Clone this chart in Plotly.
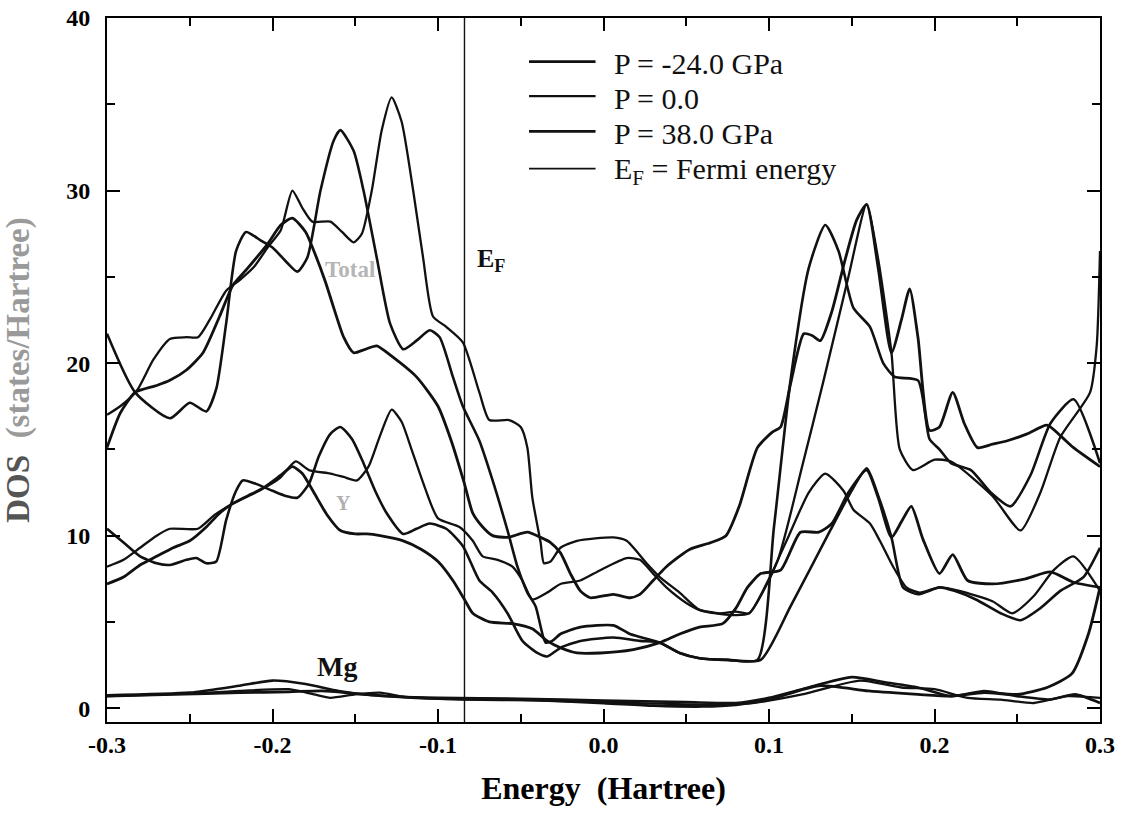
import plotly.graph_objects as go

# ---------------- data ----------------
E_FERMI = -0.084

# Total DOS, P = -24.0 GPa
e_tot_a = [-0.300, -0.283, -0.262, -0.250, -0.240, -0.234, -0.228, -0.222, -0.216, -0.207, -0.200, -0.191,
           -0.185, -0.179, -0.171, -0.163, -0.159, -0.151, -0.145, -0.137, -0.129, -0.121, -0.113, -0.105,
           -0.099, -0.091, -0.085, -0.075, -0.067, -0.058, -0.052, -0.046, -0.041, -0.035, -0.031, -0.026,
           -0.014, 0.006, 0.016, 0.034, 0.046, 0.058, 0.075, 0.093, 0.103, 0.113, 0.124, 0.134, 0.142,
           0.151, 0.161, 0.169, 0.176, 0.190, 0.197, 0.203, 0.210, 0.222, 0.234, 0.246, 0.258, 0.270,
           0.284, 0.300]
dos_tot_a = [21.7, 18.3, 16.8, 17.7, 17.2, 18.5, 22.3, 26.5, 27.6, 27.1, 26.7, 25.8,
             25.3, 26.1, 30.0, 32.9, 33.5, 32.3, 30.0, 26.1, 22.3, 20.8, 21.3, 21.9,
             21.5, 19.2, 17.5, 15.5, 13.2, 10.3, 8.2, 6.7, 5.9, 3.8, 3.9, 4.3,
             4.7, 4.8, 4.3, 3.8, 3.2, 2.9, 2.8, 2.8, 10.5, 19.0, 25.5, 28.0, 26.5,
             23.2, 22.1, 20.0, 19.2, 19.0, 15.6, 15.0, 14.2, 13.8, 12.5, 11.7, 13.5, 16.5,
             17.9, 14.2]

# Total DOS, P = 0.0
e_tot_b = [-0.300, -0.292, -0.282, -0.272, -0.262, -0.252, -0.245, -0.238, -0.228, -0.220, -0.211, -0.203,
           -0.195, -0.188, -0.182, -0.176, -0.165, -0.158, -0.151, -0.146, -0.140, -0.134, -0.128, -0.122,
           -0.115, -0.109, -0.103, -0.095, -0.085, -0.075, -0.069, -0.057, -0.050, -0.046, -0.043, -0.038,
           -0.036, -0.032, -0.026, -0.016, 0.006, 0.014, 0.026, 0.034, 0.046, 0.058, 0.078, 0.088, 0.105,
           0.120, 0.133, 0.148, 0.159, 0.166, 0.174, 0.179, 0.187, 0.200, 0.210, 0.235, 0.252, 0.264,
           0.276, 0.294, 0.298, 0.300]
dos_tot_b = [17.0, 17.5, 18.4, 20.2, 21.4, 21.5, 21.5, 22.5, 24.2, 24.8, 25.6, 26.7,
             27.7, 30.0, 29.0, 28.2, 28.2, 27.6, 27.0, 27.5, 30.0, 33.5, 35.4, 34.0,
             30.0, 26.1, 22.7, 22.1, 21.2, 18.3, 16.7, 16.7, 16.3, 15.1, 12.2, 9.6,
             8.4, 8.5, 9.3, 9.7, 9.9, 9.7, 8.4, 7.6, 6.7, 5.7, 5.4, 5.5, 8.5,
             14.0, 19.0, 25.0, 29.2, 26.0, 20.6, 15.0, 13.8, 14.4, 14.3, 12.3, 10.3, 12.5,
             15.7, 18.3, 21.0, 26.5]

# Total DOS, P = 38.0 GPa
e_tot_c = [-0.300, -0.292, -0.283, -0.270, -0.262, -0.252, -0.242, -0.232, -0.224, -0.215, -0.203, -0.195,
           -0.188, -0.180, -0.175, -0.168, -0.163, -0.157, -0.151, -0.144, -0.137, -0.128, -0.113, -0.100,
           -0.092, -0.084, -0.079, -0.073, -0.067, -0.058, -0.046, -0.038, -0.032, -0.026, -0.020, -0.014,
           -0.008, 0.006, 0.016, 0.022, 0.030, 0.038, 0.052, 0.065, 0.074, 0.082, 0.093, 0.102, 0.107,
           0.113, 0.121, 0.126, 0.131, 0.138, 0.146, 0.153, 0.159, 0.166, 0.174, 0.180, 0.185, 0.190,
           0.197, 0.203, 0.211, 0.218, 0.226, 0.235, 0.244, 0.256, 0.268, 0.276, 0.284, 0.300]
dos_tot_c = [15.1, 17.1, 18.3, 18.7, 19.0, 19.6, 20.6, 22.7, 24.5, 25.5, 26.9, 28.0,
             28.4, 27.6, 26.5, 24.7, 23.2, 21.5, 20.6, 20.8, 21.0, 20.4, 19.2, 17.5,
             15.5, 13.0, 11.3, 10.5, 10.0, 9.9, 10.2, 9.9, 9.6, 9.0, 7.8, 6.8,
             6.4, 6.6, 6.4, 6.6, 7.4, 8.2, 9.2, 9.6, 10.0, 11.7, 15.1, 16.0, 16.3,
             18.8, 21.7, 21.6, 21.3, 23.0, 26.0, 28.3, 29.2, 25.5, 20.6, 22.5, 24.3, 21.5,
             16.1, 16.3, 18.3, 16.5, 15.1, 15.3, 15.5, 15.9, 16.4, 15.8, 15.1, 14.0]

# Y partial DOS
e_y_a = [-0.300, -0.290, -0.280, -0.270, -0.262, -0.252, -0.246, -0.240, -0.234, -0.228, -0.222, -0.218,
         -0.210, -0.200, -0.192, -0.185, -0.178, -0.172, -0.165, -0.159, -0.152, -0.145, -0.138, -0.131,
         -0.121, -0.113, -0.105, -0.095, -0.085, -0.075, -0.067, -0.058, -0.049, -0.040, -0.034, -0.026,
         -0.014, 0.006, 0.022, 0.034, 0.046, 0.058, 0.075, 0.095, 0.113, 0.137, 0.147, 0.159, 0.166,
         0.174, 0.181, 0.190, 0.203, 0.212, 0.225, 0.240, 0.252, 0.264, 0.276, 0.290, 0.300]
dos_y_a = [10.4, 9.6, 8.8, 8.4, 8.3, 8.6, 8.7, 8.4, 8.5, 10.9, 12.6, 13.2,
           13.0, 12.6, 12.3, 12.2, 13.0, 14.6, 15.9, 16.3, 15.6, 14.2, 12.6, 11.3,
           10.1, 10.4, 10.7, 10.4, 9.4, 7.4, 6.7, 5.5, 3.9, 3.2, 3.0, 3.5,
           3.9, 4.1, 3.9, 3.8, 3.2, 2.9, 2.8, 2.8, 5.9, 10.3, 12.1, 13.9, 12.3,
           9.9, 7.0, 6.6, 7.0, 6.8, 6.3, 5.5, 5.1, 5.8, 6.8, 7.6, 9.3]

e_y_b = [-0.300, -0.290, -0.280, -0.270, -0.262, -0.245, -0.235, -0.223, -0.208, -0.196, -0.186, -0.178,
         -0.165, -0.157, -0.149, -0.142, -0.135, -0.128, -0.122, -0.116, -0.108, -0.100, -0.087, -0.079,
         -0.073, -0.064, -0.055, -0.049, -0.043, -0.034, -0.026, -0.014, -0.002, 0.014, 0.022, 0.030,
         0.038, 0.050, 0.058, 0.070, 0.080, 0.088, 0.100, 0.112, 0.124, 0.134, 0.145, 0.151, 0.161,
         0.167, 0.175, 0.183, 0.191, 0.203, 0.215, 0.235, 0.247, 0.260, 0.272, 0.284, 0.300]
dos_y_b = [8.2, 8.6, 9.3, 10.0, 10.4, 10.4, 11.2, 11.9, 12.6, 13.3, 14.3, 13.8,
           13.6, 13.4, 13.2, 14.0, 15.8, 17.3, 16.6, 15.0, 12.8, 11.0, 10.5, 9.7,
           8.8, 8.6, 8.2, 7.4, 6.3, 6.7, 7.2, 7.4, 8.0, 8.7, 8.6, 7.8,
           7.0, 6.1, 5.7, 5.5, 5.6, 5.5, 7.5, 10.0, 12.5, 13.6, 12.6, 11.5, 10.7,
           9.7, 8.2, 7.0, 6.7, 7.0, 6.8, 6.2, 5.5, 6.5, 8.0, 8.8, 6.8]

e_y_c = [-0.300, -0.290, -0.280, -0.270, -0.260, -0.250, -0.240, -0.232, -0.225, -0.215, -0.205, -0.195,
         -0.188, -0.182, -0.175, -0.167, -0.159, -0.150, -0.143, -0.135, -0.121, -0.110, -0.100, -0.091,
         -0.084, -0.079, -0.069, -0.055, -0.043, -0.034, -0.026, -0.016, -0.002, 0.018, 0.034, 0.046,
         0.058, 0.072, 0.080, 0.087, 0.095, 0.107, 0.119, 0.130, 0.138, 0.148, 0.159, 0.166, 0.174,
         0.180, 0.186, 0.193, 0.203, 0.211, 0.220, 0.235, 0.255, 0.270, 0.284, 0.300]
dos_y_c = [7.2, 7.6, 8.3, 8.8, 9.3, 9.7, 10.5, 11.3, 11.8, 12.3, 12.8, 13.5,
           14.0, 13.6, 12.5, 11.2, 10.3, 10.1, 10.1, 10.0, 9.7, 9.2, 8.5, 7.4,
           6.3, 5.5, 5.0, 4.9, 4.6, 3.9, 3.5, 3.2, 3.2, 3.4, 3.8, 4.3,
           4.7, 4.9, 5.8, 7.0, 7.8, 8.0, 10.2, 10.2, 10.7, 12.5, 13.8, 12.2, 9.9,
           10.8, 11.7, 9.8, 7.8, 8.9, 7.4, 7.2, 7.5, 7.9, 7.3, 7.0]

# Mg partial DOS
e_mg_a = [-0.300, -0.250, -0.220, -0.200, -0.180, -0.160, -0.140, -0.100, -0.050, 0.000, 0.050, 0.080,
          0.100, 0.120, 0.150, 0.170, 0.190, 0.210, 0.230, 0.250, 0.270, 0.285, 0.300]
dos_mg_a = [0.75, 0.9, 1.3, 1.6, 1.4, 1.0, 0.75, 0.6, 0.55, 0.45, 0.35, 0.3,
            0.6, 1.1, 1.8, 1.5, 1.2, 0.7, 1.0, 0.7, 0.5, 0.8, 0.3]
e_mg_b = [-0.300, -0.250, -0.220, -0.190, -0.175, -0.165, -0.150, -0.135, -0.120, -0.085, -0.040, 0.000,
          0.040, 0.070, 0.090, 0.120, 0.155, 0.180, 0.200, 0.220, 0.240, 0.260, 0.280, 0.300]
dos_mg_b = [0.7, 0.85, 1.0, 1.1, 0.8, 0.6, 0.8, 0.9, 0.65, 0.5, 0.45, 0.35,
            0.25, 0.2, 0.3, 0.8, 1.6, 1.2, 1.1, 0.6, 0.5, 0.3, 0.7, 0.6]
e_mg_c = [-0.300, -0.260, -0.220, -0.190, -0.170, -0.150, -0.130, -0.100, -0.050, 0.000, 0.030, 0.060,
          0.080, 0.100, 0.130, 0.160, 0.190, 0.210, 0.230, 0.250, 0.268, 0.283, 0.293, 0.300]
dos_mg_c = [0.7, 0.8, 0.9, 0.95, 1.0, 0.85, 0.7, 0.55, 0.5, 0.3, 0.15, 0.1,
            0.2, 0.5, 1.3, 1.0, 0.8, 0.7, 0.9, 0.8, 1.2, 2.0, 4.3, 7.0]

legend_names = ["P = -24.0 GPa", "P = 0.0", "P = 38.0 GPa", "E<sub>F</sub> = Fermi energy"]
x_tickvals = [-0.3, -0.2, -0.1, 0.0, 0.1, 0.2, 0.3]
x_ticktext = ["-0.3", "-0.2", "-0.1", "0.0", "0.1", "0.2", "0.3"]
y_tickvals = [0, 10, 20, 30, 40]
y_ticktext = ["0", "10", "20", "30", "40"]
Y_MIN, Y_MAX = -0.8, 40

# ---------------- figure ----------------
SERIF = "Liberation Serif, Times New Roman, serif"
fig = go.Figure()

line_widths = [2.6, 2.3, 2.8, 1.4]
groups = [
    (legend_names[0], [(e_tot_a, dos_tot_a), (e_y_a, dos_y_a), (e_mg_a, dos_mg_a)], line_widths[0]),
    (legend_names[1], [(e_tot_b, dos_tot_b), (e_y_b, dos_y_b), (e_mg_b, dos_mg_b)], line_widths[1]),
    (legend_names[2], [(e_tot_c, dos_tot_c), (e_y_c, dos_y_c), (e_mg_c, dos_mg_c)], line_widths[2]),
]
for name, curves, w in groups:
    for xs, ys in curves:
        fig.add_trace(go.Scatter(
            x=xs, y=ys, mode="lines", name=name, legendgroup=name, showlegend=False,
            line=dict(color="#111111", width=w, shape="spline", smoothing=0.6),
        ))

fig.add_trace(go.Scatter(
    x=[E_FERMI, E_FERMI], y=[Y_MIN, Y_MAX], mode="lines", name=legend_names[3], showlegend=False,
    line=dict(color="#111111", width=line_widths[3]),
))

# legend drawn inside the frame (sample line + text per row)
legend_rows_y = [0.935, 0.886, 0.836, 0.783]
for name, ry, w in zip(legend_names, legend_rows_y, line_widths):
    fig.add_shape(type="line", xref="paper", yref="paper", x0=0.425, x1=0.492, y0=ry + 0.003, y1=ry + 0.003,
                  line=dict(color="#111111", width=max(w, 1.8)))
    fig.add_annotation(xref="paper", yref="paper", x=0.509, y=ry, xanchor="left", yanchor="middle",
                       text=name, showarrow=False,
                       font=dict(family=SERIF, size=30, color="#111111"))

axis_common = dict(
    showline=True, linecolor="black", linewidth=2, mirror="ticks",
    ticks="inside", tickcolor="black", tickwidth=2, ticklen=13,
    showgrid=False, zeroline=False, ticklabeloverflow="allow", automargin=False,
    tickfont=dict(family=SERIF, size=24, color="black", weight="bold"),
)

fig.update_xaxes(
    range=[-0.3, 0.3], tickvals=x_tickvals, ticktext=x_ticktext,
    minor=dict(dtick=0.05, tick0=-0.3, ticks="inside", ticklen=8, tickwidth=2, tickcolor="black"),
    title=dict(text="Energy  (Hartree)", font=dict(family=SERIF, size=32, color="black", weight="bold"),
               standoff=20),
    **axis_common,
)
fig.update_yaxes(
    range=[Y_MIN, Y_MAX], tickvals=y_tickvals, ticktext=y_ticktext,
    minor=dict(dtick=5, tick0=0, ticks="inside", ticklen=8, tickwidth=2, tickcolor="black"),
    ticklabelstandoff=10,
    title=dict(text="<span style='color:#555555'>DOS</span>  <span style='color:#9a9a9a'>(states/Hartree)</span>",
               font=dict(family=SERIF, size=33, color="#777777", weight="bold"), standoff=40),
    **axis_common,
)

fig.add_annotation(x=-0.153, y=25.4, text="Total", showarrow=False,
                   font=dict(family=SERIF, size=23, color="#b5b5b5", weight="bold"))
fig.add_annotation(x=-0.157, y=11.9, text="Y", showarrow=False,
                   font=dict(family=SERIF, size=20, color="#b0b0b0", weight="bold"))
fig.add_annotation(x=-0.161, y=2.4, text="Mg", showarrow=False,
                   font=dict(family=SERIF, size=28, color="#111111", weight="bold"))
fig.add_annotation(x=-0.068, y=26.0, text="E<sub>F</sub>", showarrow=False,
                   font=dict(family=SERIF, size=26, color="#111111", weight="bold"))

fig.update_layout(
    width=1129, height=818,
    margin=dict(l=107, r=29, t=18, b=96),
    paper_bgcolor="white", plot_bgcolor="white",
    showlegend=False,
)

# remove the browser's default 8px body margin so the figure fills the window exactly
fig.write_html("out.html", config={"displayModeBar": False},
               post_script="document.body.style.margin='0px';")
